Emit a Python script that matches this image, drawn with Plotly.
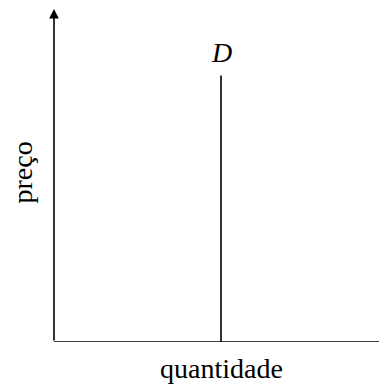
import plotly.graph_objects as go

# eixos (unidades arbitrárias)
q_max = 9.73
p_max = 10.0

# curva de demanda vertical
demand_q = [5.0, 5.0]
demand_p = [0.0, 8.0]
demand_label = "D"

x_title = "quantidade"
y_title = "preço"

FONT = "Liberation Serif"
FS = 28

fig = go.Figure()

# ── demanda ─────────────────────────────────────────
fig.add_trace(go.Scatter(
    x=demand_q, y=demand_p,
    mode="lines",
    line=dict(color="black", width=1.6),
    showlegend=False,
    hoverinfo="skip",
))

# ── eixo x ──────────────────────────────────────────
fig.add_trace(go.Scatter(
    x=[0, q_max], y=[0, 0],
    mode="lines",
    line=dict(color="black", width=1.6),
    showlegend=False,
    hoverinfo="skip",
    cliponaxis=False,
))

# ── eixo y com seta ─────────────────────────────────
fig.add_annotation(
    x=0, y=p_max, ax=0, ay=0,
    xref="x", yref="y", axref="x", ayref="y",
    showarrow=True, arrowhead=2, arrowsize=1.2, arrowwidth=1.6,
    arrowcolor="black", text="",
)

fig.add_annotation(
    x=demand_q[1], y=demand_p[1], text=f"<i>{demand_label}</i>",
    showarrow=False, yanchor="bottom", yshift=6,
    font=dict(family=FONT, size=FS, color="black"),
)
fig.add_annotation(
    x=demand_q[0], y=0, text=x_title,
    showarrow=False, yanchor="top", yshift=-9,
    font=dict(family=FONT, size=FS, color="black"),
)
fig.add_annotation(
    x=0, y=p_max / 2, text=y_title, textangle=-90,
    showarrow=False, xanchor="center", xshift=-32, yshift=3,
    font=dict(family=FONT, size=FS, color="black"),
)

fig.update_layout(
    width=379, height=390,
    margin=dict(l=54, r=0, t=9, b=48),
    paper_bgcolor="white",
    plot_bgcolor="white",
    xaxis=dict(range=[0, q_max], visible=False, fixedrange=True),
    yaxis=dict(range=[0, p_max], visible=False, fixedrange=True),
)

# sem margem no body, sem barras de rolagem
fig.write_html(
    "out.html",
    config={"displayModeBar": False},
    post_script="document.body.style.margin='0';document.body.style.overflow='hidden';",
)
